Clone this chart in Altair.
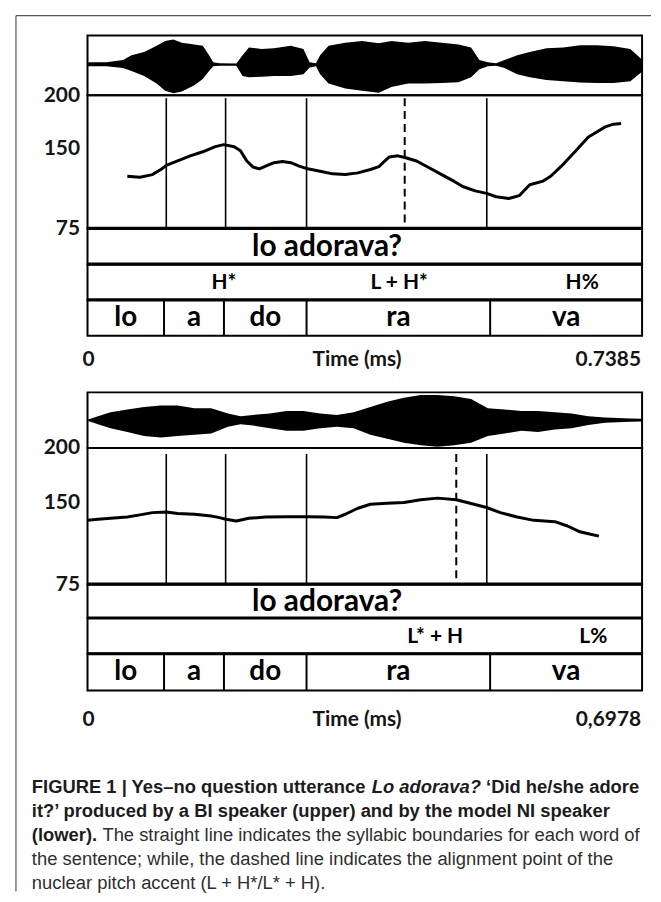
import altair as alt
import pandas as pd

# ---------------- data ----------------
DUR_UP = 0.7385
DUR_LO = 0.6978

# upper speaker (BI): waveform envelope (time s, relative amplitude)
wave_up_t = [0.0, 0.0028, 0.0251, 0.0474, 0.0586, 0.0754, 0.0921, 0.1033, 0.1144, 0.1256,
             0.1423, 0.1535, 0.1619, 0.1675, 0.1758, 0.1982, 0.2065, 0.2149, 0.2317, 0.2484,
             0.2707, 0.2875, 0.2958, 0.3042, 0.3098, 0.3210, 0.3433, 0.3656, 0.3879, 0.4047,
             0.4270, 0.4494, 0.4717, 0.4940, 0.5108, 0.5219, 0.5331, 0.5442, 0.5554, 0.5722,
             0.5889, 0.6112, 0.6336, 0.6559, 0.6782, 0.7005, 0.7229, 0.7368, 0.7385]
wave_up_top = [0.10, 0.11, 0.11, 0.19, 0.36, 0.47, 0.69, 0.86, 0.91, 0.80,
               0.74, 0.69, 0.36, 0.11, 0.08, 0.07, 0.36, 0.63, 0.58, 0.60,
               0.69, 0.58, 0.11, 0.08, 0.36, 0.69, 0.80, 0.86, 0.78, 0.86,
               0.80, 0.86, 0.80, 0.74, 0.63, 0.19, 0.11, 0.08, 0.19, 0.36,
               0.47, 0.60, 0.63, 0.71, 0.71, 0.67, 0.58, 0.24, 0.20]
wave_up_bot = [-0.03, -0.03, -0.03, -0.09, -0.20, -0.37, -0.64, -0.89, -0.98, -0.92,
               -0.70, -0.48, -0.20, -0.03, -0.01, -0.01, -0.37, -0.42, -0.40, -0.37,
               -0.37, -0.31, -0.07, -0.03, -0.31, -0.64, -0.81, -0.89, -0.96, -0.76,
               -0.64, -0.64, -0.62, -0.59, -0.42, -0.14, -0.03, -0.01, -0.09, -0.31,
               -0.42, -0.51, -0.56, -0.60, -0.62, -0.62, -0.56, -0.26, -0.20]

# upper speaker: F0 contour (time s, Hz)
f0_up_t = [0.0530, 0.0698, 0.0865, 0.0977, 0.1049, 0.1200, 0.1368, 0.1535, 0.1702, 0.1814,
           0.1954, 0.2037, 0.2121, 0.2205, 0.2289, 0.2372, 0.2484, 0.2596, 0.2707, 0.2819,
           0.2931, 0.3098, 0.3265, 0.3433, 0.3600, 0.3768, 0.3880, 0.3935, 0.4019, 0.4131,
           0.4226, 0.4382, 0.4549, 0.4717, 0.4884, 0.4996, 0.5163, 0.5314, 0.5443, 0.5610,
           0.5749, 0.5889, 0.6056, 0.6168, 0.6335, 0.6503, 0.6670, 0.6782, 0.6894, 0.7005,
           0.7106]
f0_up_hz = [123.9, 123.0, 125.5, 130.3, 134.1, 138.3, 143.1, 146.9, 151.7, 153.6,
            151.7, 147.9, 138.3, 132.5, 130.9, 133.5, 136.7, 137.7, 136.7, 133.5,
            130.9, 128.7, 126.2, 125.5, 127.1, 130.3, 132.9, 136.7, 142.1, 143.1,
            141.5, 138.3, 131.9, 125.5, 119.1, 114.3, 110.2, 107.9, 104.7, 103.1,
            105.7, 115.9, 119.1, 123.9, 135.1, 147.9, 160.7, 165.5, 170.3, 172.8,
            173.5]

# upper speaker: boundaries in the F0 panel, alignment point, tiers
bounds_up = [0.1049, 0.1839, 0.2917, 0.5317]
align_up = [0.4224]
sentence_up = ["lo adorava?"]
sentence_up_t = [0.3190]
tones_up = ["H*", "L + H*", "H%"]
tones_up_t = [0.1817, 0.4150, 0.6587]
syllables = ["lo", "a", "do", "ra", "va"]
syl_bounds_up = [0.0, 0.1019, 0.1817, 0.2917, 0.5362, 0.7385]
time_up = ["0", "Time (ms)", "0.7385"]

# lower speaker (NI): waveform envelope
wave_lo_t = [0.0, 0.0132, 0.0290, 0.0501, 0.0712, 0.0923, 0.1134, 0.1345, 0.1556, 0.1767,
             0.1925, 0.2083, 0.2294, 0.2505, 0.2716, 0.2927, 0.3138, 0.3349, 0.3560, 0.3771,
             0.3982, 0.4193, 0.4404, 0.4615, 0.4826, 0.5037, 0.5248, 0.5459, 0.5670, 0.5881,
             0.6091, 0.6302, 0.6513, 0.6830, 0.6978]
wave_lo_top = [0.02, 0.15, 0.30, 0.40, 0.50, 0.55, 0.55, 0.45, 0.45, 0.25,
               0.15, 0.20, 0.25, 0.35, 0.35, 0.25, 0.20, 0.30, 0.50, 0.70,
               0.85, 0.95, 0.95, 0.90, 0.80, 0.45, 0.40, 0.35, 0.35, 0.30,
               0.25, 0.15, 0.10, 0.06, 0.05]
wave_lo_bot = [-0.02, -0.15, -0.30, -0.45, -0.60, -0.65, -0.60, -0.55, -0.50, -0.25,
               -0.15, -0.20, -0.30, -0.40, -0.40, -0.30, -0.25, -0.30, -0.55, -0.70,
               -0.85, -0.95, -1.00, -0.95, -0.85, -0.60, -0.50, -0.40, -0.45, -0.35,
               -0.30, -0.18, -0.10, -0.06, -0.05]

# lower speaker: F0 contour
f0_lo_t = [0.0, 0.0132, 0.0290, 0.0501, 0.0659, 0.0818, 0.0992, 0.1134, 0.1345, 0.1556,
           0.1661, 0.1741, 0.1872, 0.2031, 0.2242, 0.2505, 0.2769, 0.2980, 0.3138, 0.3244,
           0.3402, 0.3560, 0.3771, 0.3982, 0.4193, 0.4404, 0.4641, 0.4826, 0.5021, 0.5195,
           0.5406, 0.5617, 0.5881, 0.6039, 0.6197, 0.6303, 0.6435]
f0_lo_hz = [133.6, 134.6, 135.5, 136.7, 138.6, 140.7, 141.3, 139.8, 139.2, 137.6,
            136.1, 134.6, 133.0, 135.5, 136.7, 137.0, 137.0, 136.7, 136.1, 139.2,
            144.7, 148.4, 149.4, 150.0, 152.5, 154.0, 152.5, 149.1, 145.4, 140.7,
            136.7, 133.6, 132.4, 128.4, 123.1, 121.3, 119.1]

bounds_lo = [0.0991, 0.1738, 0.2756, 0.5024]
align_lo = [0.4640]
sentence_lo = ["lo adorava?"]
sentence_lo_t = [0.3015]
tones_lo = ["L* + H", "L%"]
tones_lo_t = [0.4375, 0.6364]
syl_bounds_lo = [0.0, 0.0963, 0.1717, 0.2756, 0.5066, 0.6978]
time_lo = ["0", "Time (ms)", "0,6978"]

f0_ticks = [75, 150, 200]

caption_runs = [
    "FIGURE 1 | Yes\u2013no question utterance",
    "Lo adorava?",
    "\u2018Did he/she adore",
    "it?\u2019 produced by a BI speaker (upper) and by the model NI speaker",
    "(lower).",
    "The straight line indicates the syllabic boundaries for each word of",
    "the sentence; while, the dashed line indicates the alignment point of the",
    "nuclear pitch accent (L + H*/L* + H).",
]

# ---------------- styling ----------------
W = 558
FONT = "Lato"
CAP_FONT = "Liberation Sans, Arial, sans-serif"
BOX = alt.ViewBackground(stroke="black", strokeWidth=2)
NOBOX = alt.ViewBackground(stroke="transparent", strokeWidth=0)


def xs(dur):
    return alt.Scale(domain=[0, dur], nice=False, zero=False)


def thick_top():
    return alt.Chart(pd.DataFrame({"k": [0]})).mark_rule(color="black", strokeWidth=3.2).encode(
        x=alt.value(0), x2=alt.value(W), y=alt.value(0))


def wave_row(t, top, bot, dur, h, extra=None):
    df = pd.DataFrame({"t": t, "top": top, "bot": bot})
    area = alt.Chart(df).mark_area(color="black", interpolate="linear").encode(
        x=alt.X("t:Q", scale=xs(dur), axis=None),
        y=alt.Y("top:Q", scale=alt.Scale(domain=[-1.05, 1.05], nice=False, zero=False), axis=None),
        y2="bot:Q",
    )
    layers = [area] + (extra or [])
    return alt.layer(*layers).properties(width=W, height=h, view=BOX)


def pitch_row(t, hz, bounds, align, dur, h, gap):
    df = pd.DataFrame({"t": t, "hz": hz})
    line = alt.Chart(df).mark_line(color="black", strokeWidth=3, strokeJoin="round").encode(
        x=alt.X("t:Q", scale=xs(dur), axis=None),
        y=alt.Y("hz:Q", scale=alt.Scale(domain=[75, 200], nice=False, zero=False),
                axis=alt.Axis(values=f0_ticks, domain=False, ticks=False, grid=False,
                              labelFont=FONT, labelFontSize=21, labelFontWeight="bold",
                              labelColor="#151515", labelPadding=8, title=None)),
    )
    rules = alt.Chart(pd.DataFrame({"t": bounds})).mark_rule(color="black", strokeWidth=1.6).encode(
        x=alt.X("t:Q", scale=xs(dur), axis=None), y=alt.value(gap), y2=alt.value(h))
    dash = alt.Chart(pd.DataFrame({"t": align})).mark_rule(
        color="black", strokeWidth=2, strokeDash=[8, 5]).encode(
        x=alt.X("t:Q", scale=xs(dur), axis=None), y=alt.value(gap), y2=alt.value(h))
    return alt.layer(rules, dash, line).properties(width=W, height=h, view=BOX)


def text_row(labels, ts, dur, h, size, weight="bold"):
    df = pd.DataFrame({"lab": labels, "t": ts})
    txt = alt.Chart(df).mark_text(font=FONT, fontSize=size, fontWeight=weight, color="black",
                                  baseline="middle", align="center").encode(
        x=alt.X("t:Q", scale=xs(dur), axis=None), y=alt.value(h / 2 + 1), text="lab:N")
    return alt.layer(thick_top(), txt).properties(width=W, height=h, view=BOX)


def syl_row(names, bounds, dur, h):
    df = pd.DataFrame({"syl": names, "start": bounds[:-1], "end": bounds[1:]})
    txt = alt.Chart(df).transform_calculate(mid="(datum.start + datum.end) / 2").mark_text(
        font=FONT, fontSize=28, fontWeight="bold", color="black", baseline="middle").encode(
        x=alt.X("mid:Q", scale=xs(dur), axis=None), y=alt.value(h / 2), text="syl:N")
    rules = alt.Chart(pd.DataFrame({"t": bounds[1:-1]})).mark_rule(color="black", strokeWidth=2).encode(
        x=alt.X("t:Q", scale=xs(dur), axis=None), y=alt.value(0), y2=alt.value(h))
    return alt.layer(thick_top(), rules, txt).properties(width=W, height=h, view=BOX)


def time_layers(labels, dur, ypos):
    df0 = pd.DataFrame({"lab": [labels[0]], "t": [0.0]})
    df2 = pd.DataFrame({"lab": [labels[2]], "t": [dur]})
    common = dict(font=FONT, fontSize=21, fontWeight="bold", color="#151515", baseline="middle")
    a = alt.Chart(df0).mark_text(align="center", dx=1, **common).encode(
        x=alt.X("t:Q", scale=xs(dur), axis=None), y=alt.value(ypos), text="lab:N")
    b = alt.Chart(df2).mark_text(align="right", dx=-1, **common).encode(
        x=alt.X("t:Q", scale=xs(dur), axis=None), y=alt.value(ypos), text="lab:N")
    c = alt.Chart(pd.DataFrame({"lab": [labels[1]]})).mark_text(align="center", **common).encode(
        x=alt.value(W * 0.486), y=alt.value(ypos), text="lab:N")
    return [a, b, c]


# frame around the figure (top and left edges)
frame = [
    alt.Chart(pd.DataFrame({"k": [0]})).mark_rule(color="#555555", strokeWidth=1.2).encode(
        x=alt.value(-72), x2=alt.value(567), y=alt.value(-20)),
    alt.Chart(pd.DataFrame({"k": [0]})).mark_rule(color="#555555", strokeWidth=1.2).encode(
        x=alt.value(-72), y=alt.value(-20), y2=alt.value(861)),
]


# caption
def cap(text, x, y, weight="normal", style="normal", color="#2e2e2e"):
    return alt.Chart(pd.DataFrame({"lab": [text]})).mark_text(
        font=CAP_FONT, fontSize=18.5, fontWeight=weight, fontStyle=style, color=color,
        align="left", baseline="middle").encode(x=alt.value(x), y=alt.value(y), text="lab:N")


CX = -56
DARK = "#1c1c1c"
cap_layers = [
    cap(caption_runs[0], CX, 97, "bold", color=DARK),
    cap(caption_runs[1], 286, 97, "bold", "italic", color=DARK),
    cap(caption_runs[2], 401, 97, "bold", color=DARK),
    cap(caption_runs[3], CX, 121.5, "bold", color=DARK),
    cap(caption_runs[4], CX, 145.5, "bold", color=DARK),
    cap(caption_runs[5], 15, 145.5),
    cap(caption_runs[6], CX, 169.5),
    cap(caption_runs[7], CX, 194),
]

row_u1 = wave_row(wave_up_t, wave_up_top, wave_up_bot, DUR_UP, 60, extra=frame)
row_u2 = pitch_row(f0_up_t, f0_up_hz, bounds_up, align_up, DUR_UP, 134, 3)
row_u3 = text_row(sentence_up, sentence_up_t, DUR_UP, 36, 30)
row_u4 = text_row(tones_up, tones_up_t, DUR_UP, 36, 21)
row_u5 = syl_row(syllables, syl_bounds_up, DUR_UP, 36)
row_u6 = alt.layer(*time_layers(time_up, DUR_UP, 24)).properties(width=W, height=57, view=NOBOX)

row_l1 = wave_row(wave_lo_t, wave_lo_top, wave_lo_bot, DUR_LO, 56)
row_l2 = pitch_row(f0_lo_t, f0_lo_hz, bounds_lo, align_lo, DUR_LO, 137, 6)
row_l3 = text_row(sentence_lo, sentence_lo_t, DUR_LO, 34, 30)
row_l4 = text_row(tones_lo, tones_lo_t, DUR_LO, 36, 21)
row_l5 = syl_row(syllables, syl_bounds_lo, DUR_LO, 37)
row_l6 = alt.layer(*(time_layers(time_lo, DUR_LO, 30) + cap_layers)).properties(
    width=W, height=198, view=NOBOX)

chart = alt.vconcat(
    row_u1, row_u2, row_u3, row_u4, row_u5, row_u6,
    row_l1, row_l2, row_l3, row_l4, row_l5, row_l6,
    spacing=0, bounds="flush",
).resolve_scale(x="independent", y="independent").properties(
    padding={"left": 6, "top": 3, "right": 0, "bottom": 0},
    background="white",
).configure(font=FONT)

chart.save("out.html", embed_options={"renderer": "svg", "actions": False})
